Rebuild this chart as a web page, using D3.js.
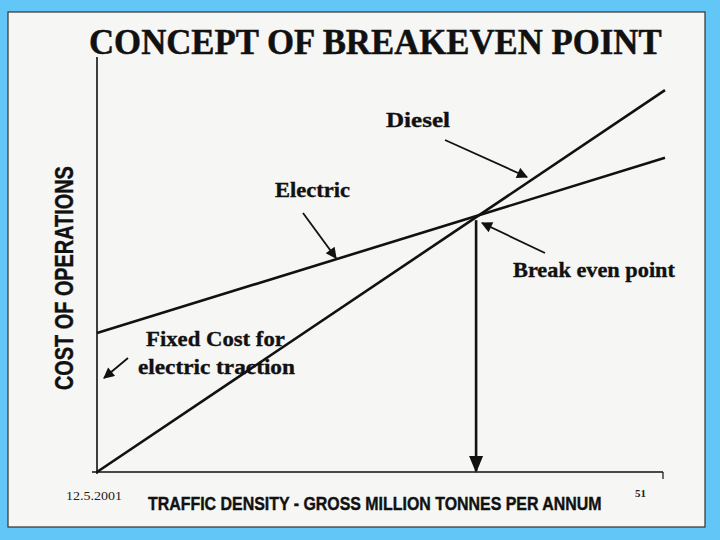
<!DOCTYPE html>
<html>
<head>
<meta charset="utf-8">
<script src="https://cdn.jsdelivr.net/npm/d3@7"></script>
<style>
  html, body { margin: 0; padding: 0; background: #62c6f6; }
  svg { display: block; }
</style>
</head>
<body>
<div id="chart"></div>
<script>
const width = 720;
const height = 540;

// traffic density (arbitrary units) at the two ends of each line
const traffic = [0, 12];
const dieselCost = [0, 92];
const electricCost = [33.5, 75.7];

const titleText = 'CONCEPT OF BREAKEVEN POINT';
const xTitle = 'TRAFFIC DENSITY - GROSS MILLION TONNES PER ANNUM';
const yTitle = 'COST OF OPERATIONS';

const svg = d3.select('#chart')
    .append('svg')
    .attr('width', width)
    .attr('height', height);

const defs = svg.append('defs');
defs.append('marker')
    .attr('id', 'head')
    .attr('viewBox', '0 0 10 10')
    .attr('refX', 9)
    .attr('refY', 5)
    .attr('markerUnits', 'userSpaceOnUse')
    .attr('markerWidth', 13)
    .attr('markerHeight', 11)
    .attr('orient', 'auto')
    .append('path')
    .attr('d', 'M0 0 L10 5 L0 10 z')
    .attr('fill', '#111');

// PAGE
svg.append('rect')
    .attr('x', 8).attr('y', 12)
    .attr('width', 697).attr('height', 515)
    .attr('fill', '#f6f6f4')
    .attr('stroke', '#333')
    .attr('stroke-width', 1.2);

const x = d3.scaleLinear().domain(traffic).range([97, 665]);
const y = d3.scaleLinear().domain([0, 100]).range([472, 57]);

const g = svg.append('g');

// AXES
g.append('line')
    .attr('x1', x(0)).attr('x2', x(0))
    .attr('y1', y(100)).attr('y2', y(0) + 2)
    .attr('stroke', '#111').attr('stroke-width', 1.6);
g.append('line')
    .attr('x1', x(0) - 5).attr('x2', x(traffic[1]) - 2)
    .attr('y1', y(0)).attr('y2', y(0))
    .attr('stroke', '#111').attr('stroke-width', 1.6);
g.append('line')
    .attr('x1', x(traffic[1]) - 2).attr('x2', x(traffic[1]) - 2)
    .attr('y1', y(0)).attr('y2', y(0) + 7)
    .attr('stroke', '#111').attr('stroke-width', 1.2);

// COST LINES
const line = d3.line()
    .x(d => x(d[0]))
    .y(d => y(d[1]));

[dieselCost, electricCost].forEach(costs => {
    g.append('path')
        .datum(traffic.map((t, i) => [t, costs[i]]))
        .attr('d', line)
        .attr('fill', 'none')
        .attr('stroke', '#111')
        .attr('stroke-width', 2.6);
});

// BREAK EVEN
const dSlope = (dieselCost[1] - dieselCost[0]) / (traffic[1] - traffic[0]);
const eSlope = (electricCost[1] - electricCost[0]) / (traffic[1] - traffic[0]);
const beX = (electricCost[0] - dieselCost[0]) / (dSlope - eSlope);
const beY = dieselCost[0] + dSlope * beX;

g.append('line')
    .attr('x1', x(beX) - 3).attr('x2', x(beX) - 3)
    .attr('y1', y(beY) + 5).attr('y2', y(0) - 1)
    .attr('stroke', '#111').attr('stroke-width', 2.6);
g.append('path')
    .attr('d', `M${x(beX) - 10} ${y(0) - 16} L${x(beX) + 4} ${y(0) - 16} L${x(beX) - 3} ${y(0) + 1} z`)
    .attr('fill', '#111');

// ANNOTATION ARROWS
const arrows = [
    [445, 140, 527, 177],
    [303, 213, 336, 258],
    [545, 253, 482, 223],
    [128, 358, 104, 378]
];
g.selectAll('.arrow')
    .data(arrows)
    .enter()
    .append('line')
    .attr('class', 'arrow')
    .attr('x1', d => d[0]).attr('y1', d => d[1])
    .attr('x2', d => d[2]).attr('y2', d => d[3])
    .attr('stroke', '#111')
    .attr('stroke-width', 1.8)
    .attr('marker-end', 'url(#head)');

// TEXTS
const serif = '"Liberation Serif", "Times New Roman", serif';
const sans = '"Liberation Sans Narrow", "Liberation Sans", Arial, sans-serif';

// squeeze a text horizontally to a given width with a transform
const fitWidth = (sel, tx, ty, w, rotate) => {
    const natural = sel.node().getComputedTextLength();
    const k = w / natural;
    sel.attr('transform', `translate(${tx} ${ty})${rotate ? ' rotate(-90)' : ''} scale(${k} 1)`);
};

const title = svg.append('text')
    .attr('font-family', serif)
    .attr('font-weight', 'bold')
    .attr('font-size', 36)
    .attr('fill', '#111')
    .attr('stroke', '#111')
    .attr('stroke-width', 0.5)
    .text(titleText);
fitWidth(title, 89, 54, 573);

const labels = [
    { text: 'Diesel', x: 386, y: 127, len: 64 },
    { text: 'Electric', x: 275, y: 197, len: 75 },
    { text: 'Break even point', x: 513, y: 277, len: 162 },
    { text: 'Fixed Cost for', x: 146, y: 346, len: 139 },
    { text: 'electric traction', x: 138, y: 374, len: 157 }
];
svg.selectAll('.label')
    .data(labels)
    .enter()
    .append('text')
    .attr('class', 'label')
    .attr('font-family', serif)
    .attr('font-weight', 'bold')
    .attr('font-size', 21)
    .attr('fill', '#111')
    .attr('stroke', '#111')
    .attr('stroke-width', 0.35)
    .text(d => d.text)
    .each(function (d) {
        fitWidth(d3.select(this), d.x, d.y, d.len);
    });

const yLabel = svg.append('text')
    .attr('x', -112)
    .attr('font-family', sans)
    .attr('font-weight', 'bold')
    .attr('font-size', 25)
    .attr('fill', '#111')
    .attr('stroke', '#111')
    .attr('stroke-width', 0.4)
    .text(yTitle);
{
    const natural = yLabel.node().getComputedTextLength();
    const k = 224 / natural;
    yLabel.attr('x', null)
        .attr('transform', `translate(73 390) rotate(-90) scale(${k} 1)`);
}

const xLabel = svg.append('text')
    .attr('font-family', sans)
    .attr('font-weight', 'bold')
    .attr('font-size', 18.5)
    .attr('fill', '#111')
    .attr('stroke', '#111')
    .attr('stroke-width', 0.4)
    .text(xTitle);
fitWidth(xLabel, 148, 510, 454);

svg.append('text')
    .attr('x', 66).attr('y', 500)
    .attr('textLength', 56)
    .attr('lengthAdjust', 'spacingAndGlyphs')
    .attr('font-family', serif)
    .attr('font-size', 12)
    .attr('fill', '#222')
    .text('12.5.2001');

svg.append('text')
    .attr('x', 635).attr('y', 497)
    .attr('font-family', serif)
    .attr('font-weight', 'bold')
    .attr('font-size', 11)
    .attr('fill', '#222')
    .text('51');
</script>
</body>
</html>
